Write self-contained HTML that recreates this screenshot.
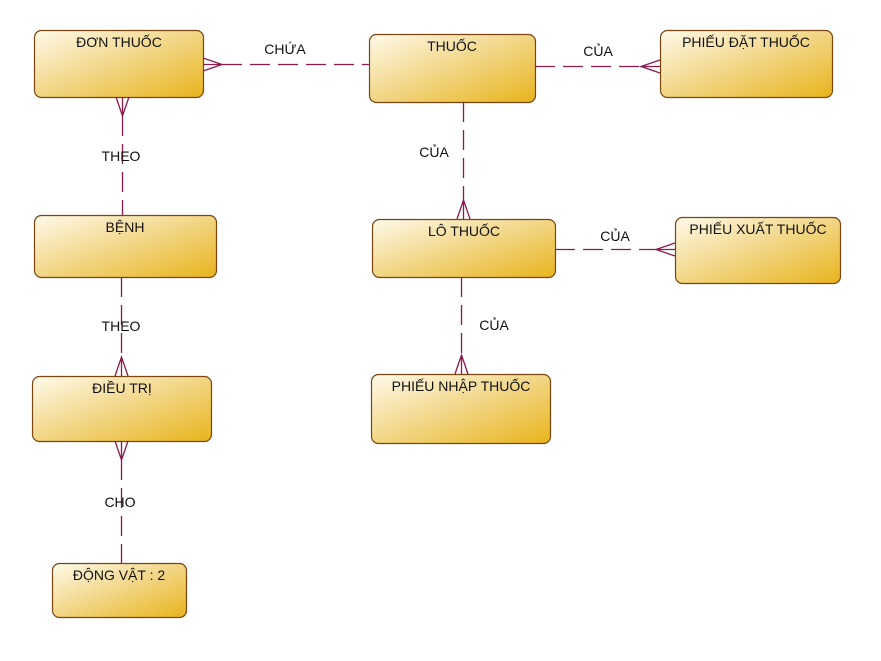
<!DOCTYPE html>
<html><head><meta charset="utf-8"><style>
html,body{margin:0;padding:0;background:#fff;}
svg{display:block;}
text{font-family:"Liberation Sans","DejaVu Sans",sans-serif;font-size:14px;fill:#111;}
</style></head><body>
<svg width="881" height="661" viewBox="0 0 881 661" xmlns="http://www.w3.org/2000/svg">
<defs>
<linearGradient id="g" x1="0" y1="0" x2="1" y2="1">
<stop offset="0" stop-color="#fffaea"/>
<stop offset="0.45" stop-color="#f3d98e"/>
<stop offset="1" stop-color="#e8b41c"/>
</linearGradient>
</defs>
<g fill="url(#g)" stroke="#7a4510" stroke-width="1.2">
<rect x="34.5" y="30.5" width="169" height="67" rx="7"/>
<rect x="369.5" y="34.5" width="166" height="68" rx="7"/>
<rect x="660.5" y="30.5" width="172" height="67" rx="7"/>
<rect x="34.5" y="215.5" width="182" height="62" rx="7"/>
<rect x="372.5" y="219.5" width="183" height="58" rx="7"/>
<rect x="675.5" y="217.5" width="165" height="66" rx="7"/>
<rect x="32.5" y="376.5" width="179" height="65" rx="7"/>
<rect x="371.5" y="374.5" width="179" height="69" rx="7"/>
<rect x="52.5" y="563.5" width="134" height="54" rx="7"/>
</g>
<g fill="none" stroke="#8b1a4f" stroke-width="1.3">
<g stroke-dasharray="20,8">
<line x1="222" y1="64.5" x2="369" y2="64.5"/>
<line x1="535" y1="66.5" x2="641" y2="66.5"/>
<line x1="122.5" y1="116" x2="122.5" y2="215"/>
<line x1="463.5" y1="102" x2="463.5" y2="200"/>
<line x1="555" y1="249.5" x2="656" y2="249.5"/>
<line x1="461.5" y1="277" x2="461.5" y2="355"/>
<line x1="121.5" y1="277" x2="121.5" y2="357"/>
<line x1="121.5" y1="460" x2="121.5" y2="563"/>
</g>
<path d="M203 58 L222 64.5 L203 71 M203 64.5 L222 64.5"/>
<path d="M660 60 L641 66.5 L660 73 M660 66.5 L641 66.5"/>
<path d="M116 97 L122.5 116 L129 97 M122.5 97 L122.5 116"/>
<path d="M457 219 L463.5 200 L470 219 M463.5 219 L463.5 200"/>
<path d="M675 243 L656 249.5 L675 256 M675 249.5 L656 249.5"/>
<path d="M455 374 L461.5 355 L468 374 M461.5 374 L461.5 355"/>
<path d="M115 376 L121.5 357 L128 376 M121.5 376 L121.5 357"/>
<path d="M115 441 L121.5 460 L128 441 M121.5 441 L121.5 460"/>
</g>
<g text-anchor="middle">
<text x="119" y="47">ĐƠN THUỐC</text>
<text x="452" y="51">THUỐC</text>
<text x="746" y="47">PHIẾU ĐẶT THUỐC</text>
<text x="125" y="232">BỆNH</text>
<text x="464" y="236">LÔ THUỐC</text>
<text x="758" y="234">PHIẾU XUẤT THUỐC</text>
<text x="122" y="393">ĐIỀU TRỊ</text>
<text x="461" y="391">PHIẾU NHẬP THUỐC</text>
<text x="119" y="580">ĐỘNG VẬT : 2</text>
<text x="285" y="54">CHỨA</text>
<text x="598" y="56">CỦA</text>
<text x="121" y="161">THEO</text>
<text x="434" y="157">CỦA</text>
<text x="615" y="241">CỦA</text>
<text x="494" y="330">CỦA</text>
<text x="121" y="331">THEO</text>
<text x="120" y="507">CHO</text>
</g>
</svg>
</body></html>
